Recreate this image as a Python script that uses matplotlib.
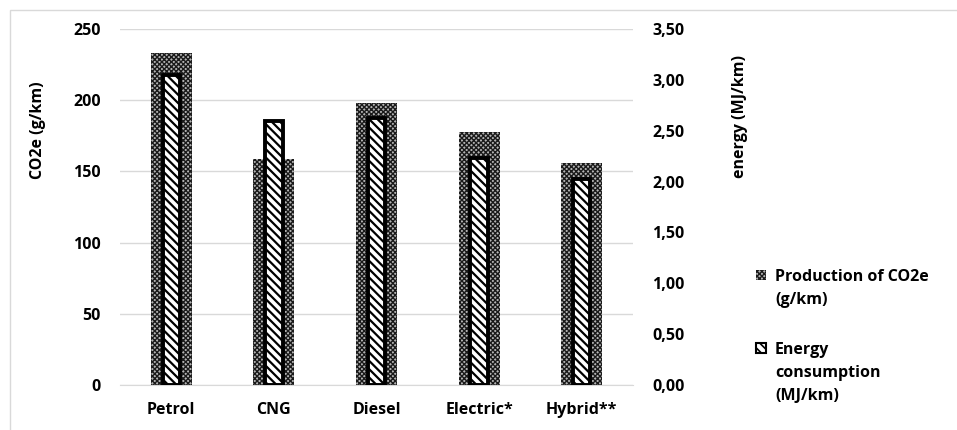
"""
CO2e production and energy consumption per vehicle type (twin-axis bar chart).
"""

import matplotlib

matplotlib.use("Agg")
import matplotlib.pyplot as plt
import numpy as np
from matplotlib.patches import Rectangle
from matplotlib.ticker import FuncFormatter

categories = ["Petrol", "CNG", "Diesel", "Electric*", "Hybrid**"]
co2_g_km = [233, 159, 198, 178, 156]
energy_mj_km = [3.05, 2.60, 2.62, 2.23, 2.03]

co2_ticks = [0, 50, 100, 150, 200, 250]
energy_ticks = [0.0, 0.5, 1.0, 1.5, 2.0, 2.5, 3.0, 3.5]

series_labels = ["Production of CO2e\n(g/km)", "Energy\nconsumption\n(MJ/km)"]

plt.rcParams["font.family"] = ["Open Sans", "DejaVu Sans"]
plt.rcParams["font.weight"] = "bold"

FS = 11.5
W, H = 957, 430

fig = plt.figure(figsize=(9.57, 4.30), dpi=100)
ax = fig.add_axes([0.1254, 0.1047, 0.536, 0.8279])
ax2 = ax.twinx()

# outer chart frame
fig.patches.append(Rectangle((10 / W, -0.05), 1.0, 1 - 10 / H + 0.05,
                             transform=fig.transFigure, fill=False,
                             edgecolor="#d9d9d9", linewidth=1.0))

co2_style = dict(color="#b4b4b4", edgecolor="#1a1a1a", linewidth=0, hatch="xxxxxxx")
energy_style = dict(color="white", edgecolor="black", hatch="\\\\\\\\")

x = np.arange(len(categories))
with plt.rc_context({"hatch.linewidth": 1.0}):
    ax.bar(x, co2_g_km, width=0.40, zorder=2, **co2_style)
with plt.rc_context({"hatch.linewidth": 1.6}):
    ax2.bar(x, energy_mj_km, width=0.17, linewidth=2.8, zorder=3, **energy_style)

ax.set_xlim(-0.5, len(categories) - 0.5)
ax.set_ylim(0, 250)
ax2.set_ylim(0, 3.5)
ax.set_yticks(co2_ticks)
ax2.set_yticks(energy_ticks)
ax2.yaxis.set_major_formatter(FuncFormatter(lambda v, p: f"{v:.2f}".replace(".", ",")))
ax.set_xticks(x)
ax.set_xticklabels(categories)

ax.grid(axis="y", color="#d9d9d9", linewidth=1.0, zorder=0)
ax.set_axisbelow(True)
for a in (ax, ax2):
    for s in a.spines.values():
        s.set_visible(False)
    a.tick_params(length=0, labelsize=FS)
ax.spines["bottom"].set_visible(True)
ax.spines["bottom"].set_color("#d9d9d9")
ax.tick_params(axis="y", pad=14)
ax.tick_params(axis="x", pad=12)
ax2.tick_params(axis="y", pad=14)

# axis titles sit high, as in the original sheet
fig.text(38 / W, 1 - 130 / H, "CO2e (g/km)", rotation=90, ha="center",
         va="center", fontsize=FS, fontweight="bold")
fig.text(740 / W, 1 - 117 / H, "energy (MJ/km)", rotation=90, ha="center",
         va="center", fontsize=FS, fontweight="bold")

# legend: swatch lines up with the first text line (pixel rows of first line centre)
legend_rows = [(275, co2_style, 1.0, 0), (348, energy_style, 1.2, 1.5)]
for (ypx, style, hlw, elw), label in zip(legend_rows, series_labels):
    with plt.rc_context({"hatch.linewidth": hlw}):
        sw = Rectangle((756 / W, 1 - (ypx + 5) / H), 10 / W, 10 / H,
                       transform=fig.transFigure, facecolor=style["color"],
                       edgecolor=style["edgecolor"], hatch=style["hatch"],
                       linewidth=elw)
    fig.patches.append(sw)
    fig.text(775 / W, 1 - (ypx - 6) / H, label, ha="left", va="top",
             fontsize=FS, fontweight="bold", linespacing=1.6)

fig.savefig("out.png", dpi=100)
